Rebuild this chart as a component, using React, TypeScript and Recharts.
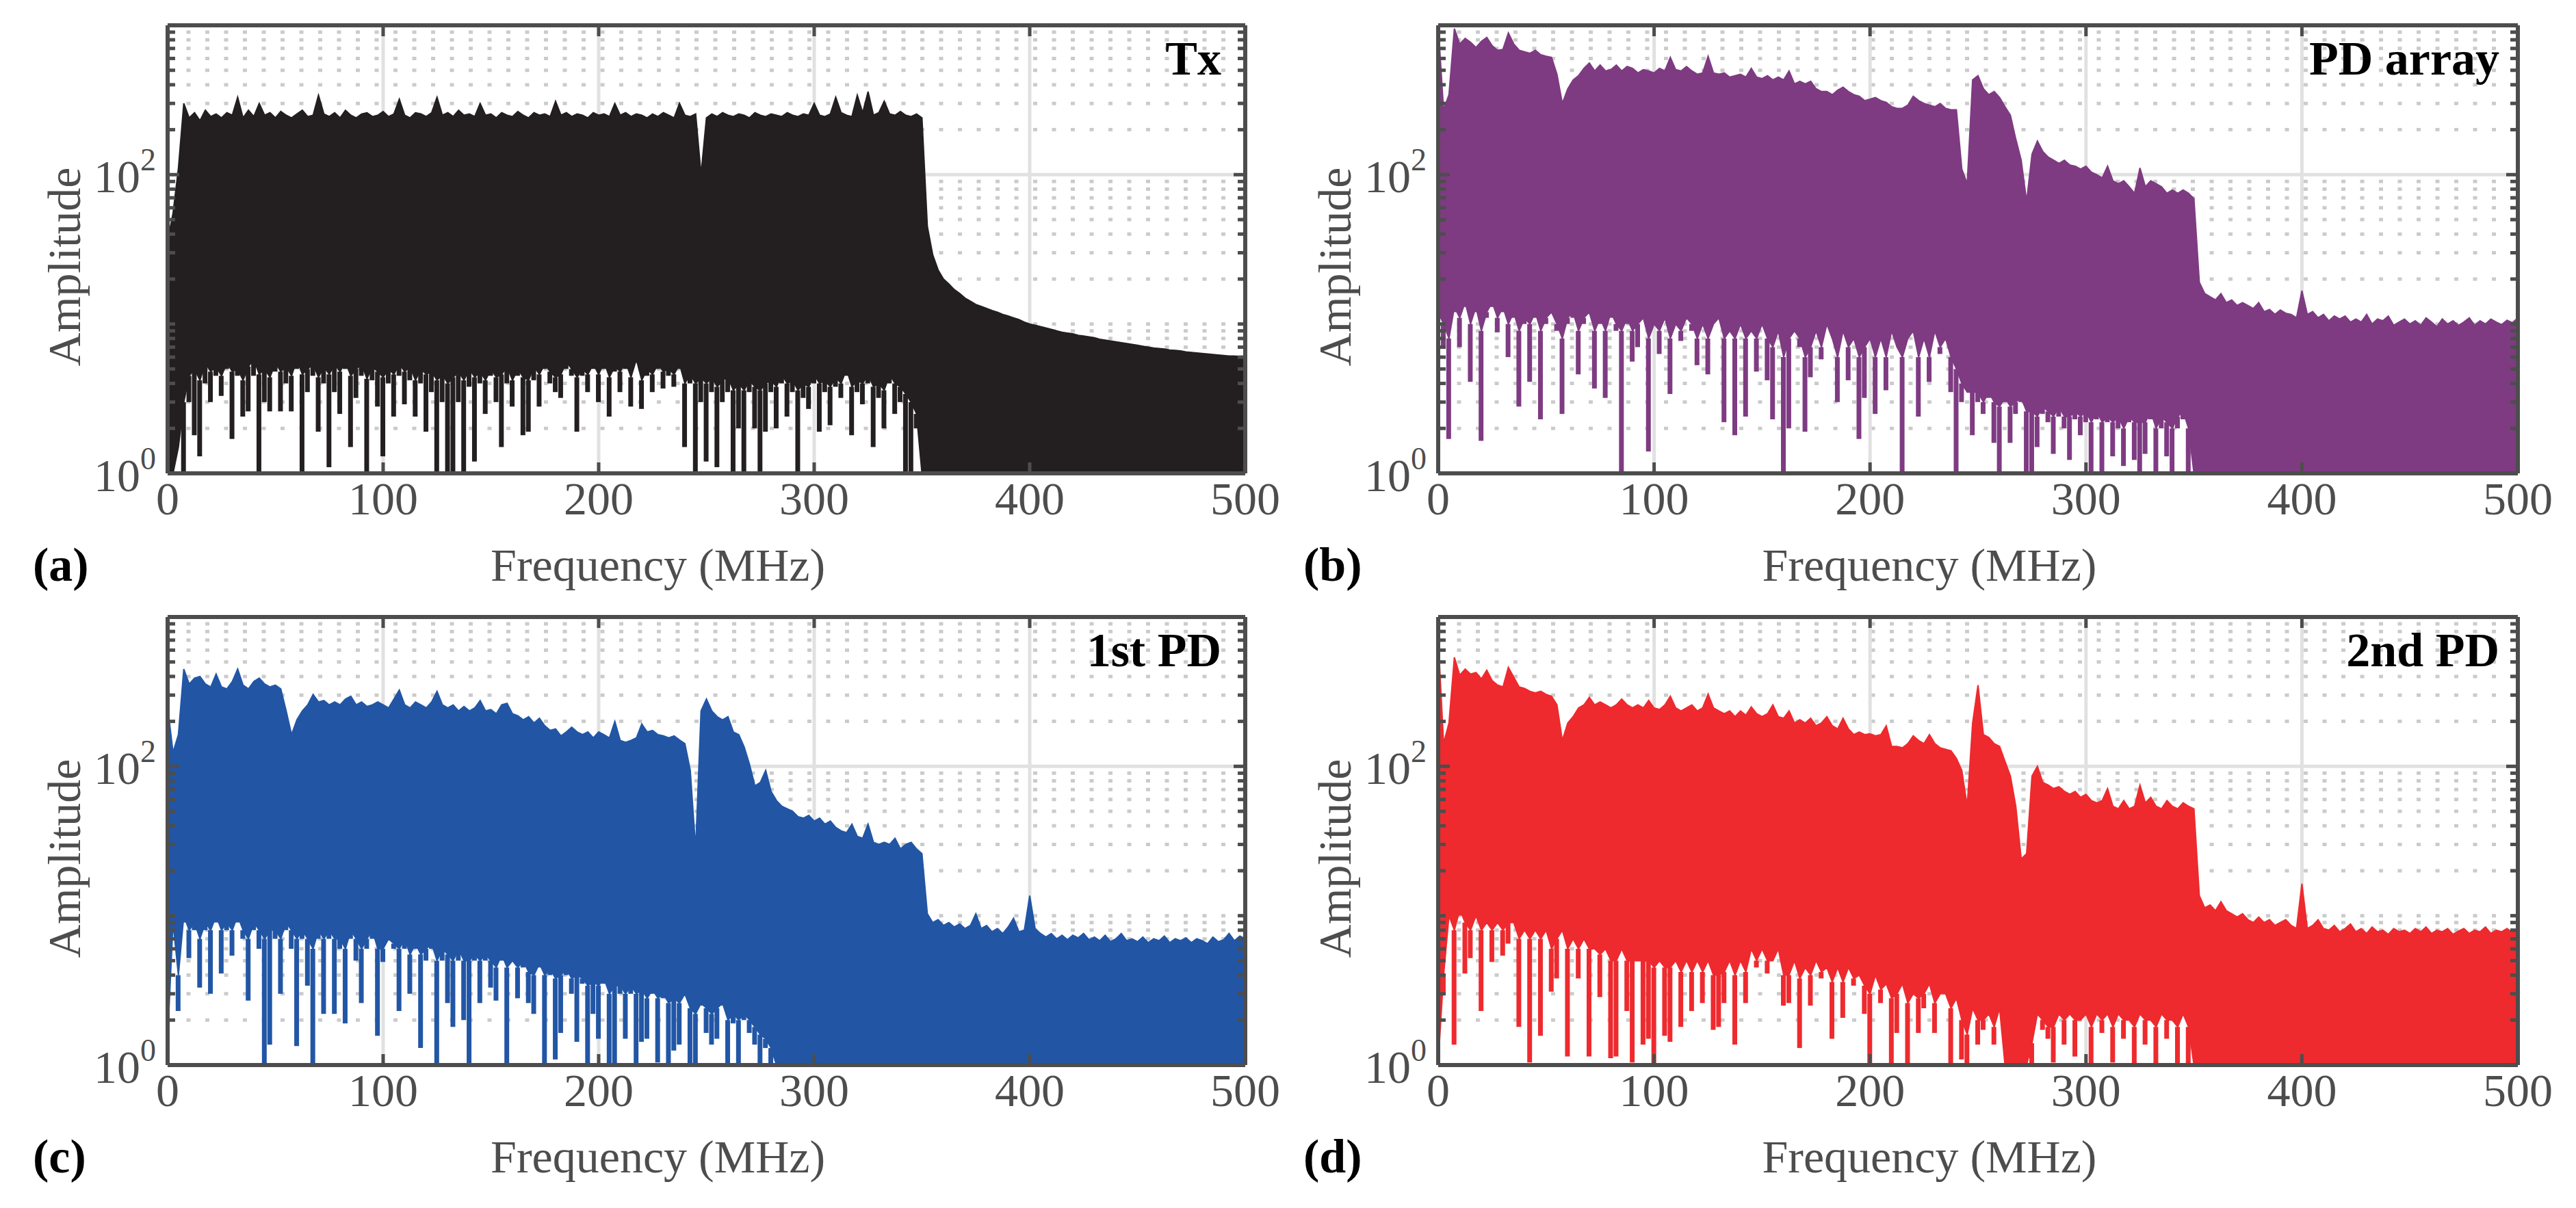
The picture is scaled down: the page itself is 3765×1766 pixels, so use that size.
import React from "react";
import { ComposedChart, Area, Bar, XAxis, YAxis, CartesianGrid, Label } from "recharts";

const FONT = '"Liberation Serif", "Times New Roman", Times, serif';
const AXIS = "#4d4d4d";

// frequency grid (MHz), 2.5 MHz step
const freqMHz = [
  0, 2.5, 5, 7.5, 10, 12.5, 15, 17.5, 20, 22.5,
  25, 27.5, 30, 32.5, 35, 37.5, 40, 42.5, 45, 47.5,
  50, 52.5, 55, 57.5, 60, 62.5, 65, 67.5, 70, 72.5,
  75, 77.5, 80, 82.5, 85, 87.5, 90, 92.5, 95, 97.5,
  100, 102.5, 105, 107.5, 110, 112.5, 115, 117.5, 120, 122.5,
  125, 127.5, 130, 132.5, 135, 137.5, 140, 142.5, 145, 147.5,
  150, 152.5, 155, 157.5, 160, 162.5, 165, 167.5, 170, 172.5,
  175, 177.5, 180, 182.5, 185, 187.5, 190, 192.5, 195, 197.5,
  200, 202.5, 205, 207.5, 210, 212.5, 215, 217.5, 220, 222.5,
  225, 227.5, 230, 232.5, 235, 237.5, 240, 242.5, 245, 247.5,
  250, 252.5, 255, 257.5, 260, 262.5, 265, 267.5, 270, 272.5,
  275, 277.5, 280, 282.5, 285, 287.5, 290, 292.5, 295, 297.5,
  300, 302.5, 305, 307.5, 310, 312.5, 315, 317.5, 320, 322.5,
  325, 327.5, 330, 332.5, 335, 337.5, 340, 342.5, 345, 347.5,
  350, 352.5, 355, 357.5, 360, 362.5, 365, 367.5, 370, 372.5,
  375, 377.5, 380, 382.5, 385, 387.5, 390, 392.5, 395, 397.5,
  400, 402.5, 405, 407.5, 410, 412.5, 415, 417.5, 420, 422.5,
  425, 427.5, 430, 432.5, 435, 437.5, 440, 442.5, 445, 447.5,
  450, 452.5, 455, 457.5, 460, 462.5, 465, 467.5, 470, 472.5,
  475, 477.5, 480, 482.5, 485, 487.5, 490, 492.5, 495, 497.5,
  500,
];

// (a) Tx: peak envelope, solid floor, and tips of the downward spikes
const txPeak = [
  36, 55, 110, 300, 240, 260, 230, 270, 245, 255,
  240, 260, 250, 330, 240, 270, 245, 300, 250, 260,
  240, 265, 250, 240, 255, 270, 245, 250, 340, 255,
  245, 260, 240, 270, 250, 240, 255, 260, 245, 250,
  265, 245, 255, 320, 250, 240, 260, 255, 245, 260,
  330, 250, 260, 245, 270, 250, 255, 245, 300, 250,
  255, 240, 260, 250, 245, 265, 250, 240, 260, 250,
  255, 245, 310, 250, 260, 245, 255, 250, 240, 260,
  250, 255, 245, 300, 250, 260, 245, 255, 250, 240,
  255, 245, 260, 250, 240, 300, 250, 245, 255, 100,
  240, 255, 245, 260, 250, 245, 255, 250, 240, 260,
  250, 245, 255, 250, 245, 260, 250, 245, 255, 250,
  300, 250, 245, 255, 330, 260, 250, 245, 340, 260,
  360, 250, 260, 310, 255, 250, 265, 250, 245, 255,
  240, 45, 29, 23, 20, 18.5, 17, 16, 14.9, 14.2,
  13.5, 13.1, 12.7, 12.3, 12, 11.6, 11.3, 11, 10.7, 10.3,
  10, 9.8, 9.6, 9.4, 9.2, 9, 8.8, 8.7, 8.6, 8.4,
  8.3, 8.2, 8.1, 7.9, 7.8, 7.7, 7.6, 7.5, 7.4, 7.3,
  7.2, 7.1, 7, 6.9, 6.85, 6.8, 6.7, 6.65, 6.6, 6.5,
  6.45, 6.4, 6.35, 6.3, 6.25, 6.2, 6.15, 6.1, 6.1, 6.05,
  6,
];
const txFloor = [
  1, 1, 1.5, 3, 4.5, 5, 4.2, 5.5, 4.8, 5.2,
  4.5, 5.5, 4.8, 5, 4.2, 5.2, 5.8, 4.6, 5, 4.4,
  5.5, 4.8, 5.2, 4.5, 5.8, 4.6, 5, 5.4, 4.4, 5.2,
  4.6, 5.4, 4.8, 5.6, 4.5, 5, 5.4, 4.3, 5.2, 4.8,
  4.4, 5, 4.6, 5.4, 4.8, 5.2, 4.2, 5, 4.6, 4.8,
  4.2, 4.6, 4, 4.4, 4.8, 4.2, 5, 4.4, 4.8, 4.2,
  5, 4.4, 4.6, 5.2, 4.2, 5, 4.4, 4.2, 5.2, 4.6,
  5.4, 4.8, 4.4, 4.6, 5.6, 5, 4.4, 5, 4.6, 5.4,
  4.6, 5.6, 4.4, 5.2, 4.8, 5.6, 4.4, 5.8, 4.2, 5,
  4.6, 5.4, 4.8, 5, 4.6, 5.4, 4, 4.6, 4, 4.4,
  4, 4.4, 3.8, 4.2, 4.4, 3.6, 4, 3.6, 4.2, 3.8,
  3.6, 4, 4.2, 3.8, 4.6, 4, 4.2, 3.6, 4, 3.8,
  4.6, 4, 4.2, 3.8, 4.4, 4, 5, 3.8, 4.2, 4,
  4.6, 3.8, 4, 3.6, 4.6, 4, 3.8, 3.4, 3, 2.5,
  1, 1, 1, 1, 1, 1, 1, 1, 1, 1,
  1, 1, 1, 1, 1, 1, 1, 1, 1, 1,
  1, 1, 1, 1, 1, 1, 1, 1, 1, 1,
  1, 1, 1, 1, 1, 1, 1, 1, 1, 1,
  1, 1, 1, 1, 1, 1, 1, 1, 1, 1,
  1, 1, 1, 1, 1, 1, 1, 1, 1, 1,
  1,
];
const txTrough = [
  1, 1, 1.5, 1, 3, 1.8, 1.3, 4, 3, 4.5,
  3.3, 5, 1.7, 4.5, 2.4, 2.6, 4.5, 1, 3, 2.6,
  4.8, 2.6, 4, 2.6, 5, 1, 3.5, 4.5, 1.9, 4,
  1.1, 3.5, 2.5, 5, 1.5, 3.2, 4.5, 1, 4.2, 2.8,
  1.3, 4, 2.4, 4.5, 2.9, 4.2, 2.4, 4, 1.9, 3.5,
  1, 3, 1, 1, 3, 1, 3.8, 1.2, 4, 2.5,
  4.5, 3, 1.5, 4, 2.8, 4.5, 1.8, 1.9, 4.2, 2.8,
  5, 4, 3.5, 3.2, 5, 4.5, 1.9, 4.5, 3.5, 5,
  3, 5, 2.4, 4.8, 3.5, 5, 2.8, 5.5, 2.7, 4.5,
  3.5, 5, 3.7, 4.5, 3.8, 5, 1.5, 4, 1, 3,
  1.2, 3.5, 1.1, 3, 3.5, 1, 2, 1, 3.5, 2,
  1, 1.9, 3.5, 2, 4, 2.4, 3.5, 1, 3.2, 2.7,
  4, 1.9, 3.5, 2.1, 3.8, 3.2, 4.5, 1.8, 3.5, 2.9,
  4, 1.5, 3.2, 2, 4, 2.5, 3, 1, 1, 2,
  1, 1, 1, 1, 1, 1, 1, 1, 1, 1,
  1, 1, 1, 1, 1, 1, 1, 1, 1, 1,
  1, 1, 1, 1, 1, 1, 1, 1, 1, 1,
  1, 1, 1, 1, 1, 1, 1, 1, 1, 1,
  1, 1, 1, 1, 1, 1, 1, 1, 1, 1,
  1, 1, 1, 1, 1, 1, 1, 1, 1, 1,
  1,
];

// (b) PD array
const pdaPeak = [
  1000, 272, 343, 950, 750, 818, 770, 710, 780, 830,
  730, 681, 690, 890, 750, 681, 665, 650, 681, 635,
  620, 610, 470, 300, 375, 431, 460, 515, 560, 495,
  542, 495, 505, 542, 495, 530, 515, 480, 505, 495,
  480, 515, 495, 610, 505, 495, 530, 495, 470, 480,
  620, 480, 470, 480, 450, 460, 470, 450, 515, 450,
  440, 460, 431, 450, 431, 495, 405, 422, 405, 422,
  376, 360, 360, 343, 368, 385, 360, 343, 335, 313,
  320, 328, 313, 305, 285, 278, 278, 292, 335, 313,
  300, 292, 285, 300, 278, 272, 272, 109, 87, 431,
  460, 376, 343, 360, 328, 285, 250, 173, 125, 66,
  137, 168, 143, 131, 125, 119, 125, 116, 114, 109,
  114, 104, 100, 95, 114, 91, 87, 91, 83, 75,
  111, 83, 91, 87, 83, 75, 79, 75, 79, 75,
  69, 19, 16, 15.2, 14.5, 16, 13.9, 14.5, 13.3, 13.9,
  13.3, 12.7, 13.9, 12.1, 12.5, 11.6, 12.4, 11.8, 11.6, 11,
  16.7, 11.6, 12.1, 11, 11.6, 10.5, 11.3, 10.8, 11.3, 10.3,
  10.8, 10.3, 11.6, 10, 10.8, 10.5, 11.3, 9.8, 10.3, 10.8,
  10, 10.5, 9.8, 11, 10.3, 9.6, 10.8, 10, 10.5, 9.8,
  10.3, 11, 9.8, 10.5, 10, 10.8, 10.3, 9.9, 10.6, 10.2,
  11,
];
const pdaFloor = [
  12, 10, 8, 13, 11, 14, 10, 13, 9, 12,
  14, 11, 13, 10, 12, 9, 11, 10, 12, 9,
  11, 12, 10, 8, 11, 12, 9, 11, 12, 9,
  11, 9, 12, 10, 9, 11, 9, 10, 11, 8,
  10, 9, 11, 8, 10, 9, 11, 10, 8, 10,
  8, 10, 11, 8, 9, 8, 10, 8, 9, 8,
  10, 8, 7, 9, 6, 8, 9, 8, 6, 7,
  9, 7, 10, 8, 6, 9, 7, 8, 6, 7,
  8, 6, 8, 6, 9, 7, 6, 8, 9, 6,
  8, 6, 9, 7, 8, 6, 5, 4, 3.5, 3.5,
  3.5, 3, 3.5, 3, 2.8, 3.2, 2.8, 3, 3.2, 2.6,
  2.6, 2.4, 2.8, 2.6, 2.4, 2.8, 2.4, 2.4, 2.6, 2.4,
  2.6, 2.2, 2.6, 2.2, 2.4, 2.2, 2.4, 2, 2.4, 2.2,
  2.2, 2.2, 2.6, 2, 2.4, 2.2, 2, 2.4, 2.6, 2,
  1, 1, 1, 1, 1, 1, 1, 1, 1, 1,
  1, 1, 1, 1, 1, 1, 1, 1, 1, 1,
  1, 1, 1, 1, 1, 1, 1, 1, 1, 1,
  1, 1, 1, 1, 1, 1, 1, 1, 1, 1,
  1, 1, 1, 1, 1, 1, 1, 1, 1, 1,
  1, 1, 1, 1, 1, 1, 1, 1, 1, 1,
  1,
];
const pdaTrough = [
  12, 7, 1.7, 12, 7, 13, 4.1, 12, 1.65, 11,
  13, 8.8, 12, 6, 11, 2.8, 10, 4.1, 11, 2.3,
  10, 12, 9, 2.5, 10, 11, 4.6, 10, 12, 3.7,
  10, 3.2, 11, 9, 1, 10, 5.6, 7, 11, 1.4,
  10, 6.3, 11, 3.4, 10, 7.7, 11, 9, 5.3, 10,
  4.6, 10, 11, 2.2, 9, 1.8, 10, 2.4, 9, 4.8,
  10, 4.2, 2.3, 9, 1, 2, 9, 7, 1.9, 4.4,
  9, 5.8, 10, 8, 3, 9, 4.2, 8, 1.7, 3.2,
  9, 2.5, 8, 3.6, 9, 7, 1, 8, 9, 2.4,
  8, 4.1, 9, 6.3, 8, 3.5, 1, 3, 3.5, 1.8,
  3, 2.5, 3.2, 1.6, 1, 3, 1.6, 2.5, 3, 1,
  1, 1.5, 2.5, 2.2, 1.35, 2.4, 2, 1.23, 2.3, 1.8,
  2.2, 1, 2.3, 1, 2.2, 1.3, 2, 1.12, 2.2, 1.23,
  1, 1.35, 2.3, 1, 2, 1.3, 1, 2, 2.3, 1,
  1, 1, 1, 1, 1, 1, 1, 1, 1, 1,
  1, 1, 1, 1, 1, 1, 1, 1, 1, 1,
  1, 1, 1, 1, 1, 1, 1, 1, 1, 1,
  1, 1, 1, 1, 1, 1, 1, 1, 1, 1,
  1, 1, 1, 1, 1, 1, 1, 1, 1, 1,
  1, 1, 1, 1, 1, 1, 1, 1, 1, 1,
  1,
];

// (c) 1st PD
const pd1Peak = [
  250, 124, 163, 448, 356, 390, 400, 356, 340, 415,
  340, 330, 370, 448, 350, 330, 370, 390, 356, 340,
  350, 330, 235, 163, 205, 235, 258, 303, 270, 276,
  258, 270, 258, 282, 295, 258, 270, 252, 258, 270,
  258, 246, 282, 324, 258, 246, 270, 258, 246, 270,
  318, 258, 246, 258, 235, 252, 235, 246, 276, 235,
  240, 225, 258, 264, 225, 218, 205, 215, 195, 210,
  187, 174, 178, 160, 170, 183, 170, 163, 170, 155,
  170, 163, 155, 200, 149, 145, 149, 155, 192, 170,
  174, 163, 160, 155, 160, 150, 142, 94, 28, 235,
  282, 235, 215, 205, 215, 170, 163, 135, 103, 74,
  78, 94, 68, 59, 54, 52, 50, 46, 45, 47,
  43, 45, 41, 43, 39, 37, 36, 41, 34, 33,
  41, 31, 30, 31, 30, 33, 28, 30, 31, 28,
  26, 10.3, 9, 9.4, 8.6, 9, 8.4, 8.8, 8.2, 8.6,
  10.3, 8.2, 8.6, 7.8, 8.2, 7.6, 8.4, 9.6, 7.8, 8,
  13.6, 8.2, 7.6, 7.2, 7.6, 7, 7.4, 6.9, 7.4, 7.1,
  7.6, 6.9, 7.2, 6.8, 7.4, 6.7, 7, 7.6, 6.8, 7,
  6.7, 7.2, 6.6, 7, 6.8, 7.3, 6.6, 7, 6.8, 7.1,
  6.6, 7, 6.8, 6.5, 7.2, 6.7, 6.9, 7.6, 6.8, 7.3,
  7,
];
const pd1Floor = [
  1.5, 9, 4, 10, 8, 9, 7, 9, 8, 10,
  8, 9, 8, 10, 8, 7, 9, 8, 7, 8,
  8, 7, 9, 8, 7, 8, 7, 6, 8, 7,
  8, 7, 7, 6, 8, 7, 6, 7, 8, 6,
  6, 7, 6.5, 6, 7, 5.5, 6.5, 5.5, 6, 6.5,
  5, 6, 5.5, 5, 6, 5, 5, 5.5, 5, 5.5,
  5, 4.5, 5.5, 4.5, 5, 4.5, 5, 4.2, 4, 4.8,
  4, 4.4, 3.8, 4, 4.4, 3.8, 4, 3.8, 3.4, 3.6,
  3.4, 3.8, 3, 3.4, 3.4, 3, 3.4, 3, 3.2, 2.8,
  3.2, 2.8, 3, 2.6, 2.8, 2.6, 3, 2.4, 2.2, 2.6,
  2.4, 2.2, 2.4, 2.6, 2, 2.2, 2, 2.2, 2, 1.8,
  1.6, 1.5, 1.3, 1, 1, 1, 1, 1, 1, 1,
  1, 1, 1, 1, 1, 1, 1, 1, 1, 1,
  1, 1, 1, 1, 1, 1, 1, 1, 1, 1,
  1, 1, 1, 1, 1, 1, 1, 1, 1, 1,
  1, 1, 1, 1, 1, 1, 1, 1, 1, 1,
  1, 1, 1, 1, 1, 1, 1, 1, 1, 1,
  1, 1, 1, 1, 1, 1, 1, 1, 1, 1,
  1, 1, 1, 1, 1, 1, 1, 1, 1, 1,
  1, 1, 1, 1, 1, 1, 1, 1, 1, 1,
  1,
];
const pd1Trough = [
  1.5, 8, 2.3, 9, 5.2, 8, 3.3, 8, 3, 9,
  4.1, 8, 5.4, 9, 7, 2.7, 8, 6, 1, 1.37,
  7, 3, 8, 6, 1.34, 7, 3.4, 1, 7, 2.2,
  7, 2.2, 6, 1.9, 7, 5, 2.6, 6, 7, 1.57,
  4.9, 7, 6, 2.3, 6, 3, 6, 1.3, 5, 6,
  1, 5, 2.6, 1.8, 5, 2, 1, 5, 2.6, 5,
  3.3, 2.7, 5, 1, 5, 2.8, 4.5, 2.6, 2.2, 4.5,
  1, 4, 1.09, 1.64, 4, 3, 1.43, 3.5, 1, 2.2,
  1.5, 3.5, 1, 1, 3, 1.5, 3, 1, 1.43, 1.5,
  3, 1.04, 2.8, 1, 1.25, 1.37, 3, 1, 1, 2.5,
  1.64, 1.37, 1.5, 2.5, 1, 1.9, 1, 2, 1.64, 1.37,
  1, 1.3, 1, 1, 1, 1, 1, 1, 1, 1,
  1, 1, 1, 1, 1, 1, 1, 1, 1, 1,
  1, 1, 1, 1, 1, 1, 1, 1, 1, 1,
  1, 1, 1, 1, 1, 1, 1, 1, 1, 1,
  1, 1, 1, 1, 1, 1, 1, 1, 1, 1,
  1, 1, 1, 1, 1, 1, 1, 1, 1, 1,
  1, 1, 1, 1, 1, 1, 1, 1, 1, 1,
  1, 1, 1, 1, 1, 1, 1, 1, 1, 1,
  1, 1, 1, 1, 1, 1, 1, 1, 1, 1,
  1,
];

// (d) 2nd PD
const pd2Peak = [
  725, 142, 195, 537, 408, 448, 415, 425, 385, 440,
  375, 350, 340, 460, 395, 340, 332, 318, 310, 318,
  303, 295, 258, 149, 195, 215, 246, 258, 290, 258,
  270, 258, 246, 258, 282, 258, 246, 258, 246, 276,
  246, 240, 258, 295, 246, 235, 246, 258, 235, 246,
  305, 246, 235, 225, 235, 215, 235, 220, 250, 225,
  215, 225, 258, 215, 210, 235, 195, 205, 195, 210,
  187, 195, 215, 187, 178, 210, 178, 163, 170, 163,
  165, 160, 163, 187, 136, 136, 133, 142, 160, 149,
  142, 163, 142, 133, 130, 127, 113, 94, 54, 195,
  350, 163, 156, 142, 136, 108, 86, 54, 24, 26,
  86, 100, 78, 75, 71, 73, 68, 65, 68, 62,
  65, 59, 57, 59, 71, 54, 52, 59, 52, 54,
  75, 57, 62, 54, 52, 59, 54, 52, 57, 54,
  52, 13.6, 11.3, 11.8, 10.8, 12.4, 10.8, 10.3, 9.8, 10.3,
  9.4, 9, 9.8, 9, 9.4, 8.6, 9, 9.4, 8.6, 8.2,
  16.4, 8.2, 8.6, 9.4, 8.2, 8, 8.6, 7.8, 8.2, 8.8,
  7.8, 8.2, 7.6, 8.4, 7.8, 8, 7.5, 8.2, 7.8, 8,
  7.6, 8.2, 7.8, 8.4, 7.6, 8, 7.8, 8.2, 7.5, 7.9,
  8.2, 7.6, 8, 7.8, 8.4, 7.6, 8, 7.8, 8.2, 7.7,
  8,
];
const pd2Floor = [
  1.04, 4, 10, 8, 11, 9, 8, 10, 8, 9,
  8, 9, 8, 9, 9, 7, 8, 7, 8, 7,
  8, 6, 7, 8, 6, 7, 6, 7, 6, 6,
  5.5, 6, 5, 5, 6, 5, 5, 5, 5, 5,
  4.5, 5, 4.5, 4.5, 5, 4.2, 5, 4.2, 5, 4.2,
  5, 4, 4, 4.2, 5, 4, 5, 4.2, 6, 5,
  6, 5, 5, 6, 4, 4, 5, 3.8, 4.5, 4,
  5, 4.2, 4.5, 3.6, 4.5, 3.6, 4.5, 3.8, 4, 3.4,
  3, 4, 3.2, 3.5, 2.8, 3, 3.5, 2.6, 3, 2.8,
  3, 3.5, 2.6, 3, 3, 2.4, 2.8, 2, 1.6, 2.4,
  2, 2, 2.2, 1.8, 2.4, 1, 1, 1, 1, 1,
  1.4, 2.2, 2, 1.8, 1.8, 2.2, 2, 2.2, 2, 2,
  2.2, 1.8, 2.2, 2, 2.2, 1.8, 2.2, 2, 2, 1.8,
  2.2, 2, 2, 1.8, 2.2, 2, 2, 1.8, 2.2, 1.8,
  1, 1, 1, 1, 1, 1, 1, 1, 1, 1,
  1, 1, 1, 1, 1, 1, 1, 1, 1, 1,
  1, 1, 1, 1, 1, 1, 1, 1, 1, 1,
  1, 1, 1, 1, 1, 1, 1, 1, 1, 1,
  1, 1, 1, 1, 1, 1, 1, 1, 1, 1,
  1, 1, 1, 1, 1, 1, 1, 1, 1, 1,
  1,
];
const pd2Trough = [
  1.04, 3, 10, 1.37, 10, 4.1, 5.2, 10, 2.3, 9,
  4.9, 9, 5.4, 6.5, 9, 1.8, 8, 1.04, 8, 1.57,
  8, 3.1, 3.8, 8, 1.14, 7, 3.8, 7, 1.14, 6,
  2.85, 6, 1.11, 1.14, 6, 2.3, 1.04, 5, 1.37, 1.5,
  1, 5, 1.57, 1.43, 5, 1.8, 5, 2.3, 5, 2.6,
  5, 1.72, 1.8, 2.6, 5, 1.37, 5, 2.6, 6, 4.5,
  6, 4.1, 5, 6, 2.5, 2.6, 5, 1.3, 4.5, 2.5,
  5, 3.8, 4.5, 1.5, 4.5, 2.07, 4.5, 3.4, 4, 2.2,
  1, 4, 2.6, 3.5, 1, 1.64, 3.5, 1, 3, 1.64,
  2.4, 3.5, 1.64, 3, 3, 1, 2.8, 1.09, 1, 2.4,
  1.37, 1.72, 2.2, 1.37, 2.4, 1, 1, 1, 1, 1,
  1, 2.2, 1.72, 1.5, 1.04, 2.2, 1.37, 2.2, 1.14, 2,
  2.2, 1, 2.2, 1.64, 2.2, 1.04, 2.2, 1.5, 2, 1,
  2.2, 1.37, 2, 1, 2.2, 1.5, 2, 1, 2.2, 1,
  1, 1, 1, 1, 1, 1, 1, 1, 1, 1,
  1, 1, 1, 1, 1, 1, 1, 1, 1, 1,
  1, 1, 1, 1, 1, 1, 1, 1, 1, 1,
  1, 1, 1, 1, 1, 1, 1, 1, 1, 1,
  1, 1, 1, 1, 1, 1, 1, 1, 1, 1,
  1, 1, 1, 1, 1, 1, 1, 1, 1, 1,
  1,
];

const xTicks = [0, 100, 200, 300, 400, 500];
const yTicks = [
  1, 2, 3, 4, 5, 6, 7, 8, 9,
  10, 20, 30, 40, 50, 60, 70, 80, 90,
  100, 200, 300, 400, 500, 600, 700, 800, 900, 1000,
];
const yMinorGrid = [
  2, 3, 4, 5, 6, 7, 8, 9,
  10, 20, 30, 40, 50, 60, 70, 80, 90,
  200, 300, 400, 500, 600, 700, 800, 900,
];
const yMajorGrid = [100];
const xMajorGrid = [100, 200, 300, 400];
const yLabelled: Record<number, string> = { 1: "0", 100: "2" };

const PLOT_H = 655;
const LEFT_W = 245;
const TOP_M = 37;

function isMajorY(v: number) {
  return v === 1 || v === 100 || v === 1000;
}

function LeftTick(props: any) {
  const { x, y, payload } = props;
  const v = payload.value;
  const len = isMajorY(v) ? 17 : 11;
  const exp = yLabelled[v];
  return (
    <g>
      <line x1={x} y1={y} x2={x + len} y2={y} stroke={AXIS} strokeWidth={5} />
      {exp && (
        <text x={x - 17} y={y + 26} textAnchor="end" fill={AXIS} fontSize={68} fontFamily={FONT}>
          10<tspan dy={-32} fontSize={46}>{exp}</tspan>
        </text>
      )}
    </g>
  );
}

function RightTick(props: any) {
  const { x, y, payload } = props;
  const len = isMajorY(payload.value) ? 17 : 11;
  return <line x1={x} y1={y} x2={x - len} y2={y} stroke={AXIS} strokeWidth={5} />;
}

function BottomTick(props: any) {
  const { x, y, payload } = props;
  return (
    <g>
      <line x1={x} y1={y} x2={x} y2={y - 16} stroke={AXIS} strokeWidth={5} />
      <text x={x} y={y + 60} textAnchor="middle" fill={AXIS} fontSize={68} fontFamily={FONT}>
        {payload.value}
      </text>
    </g>
  );
}

function TopTick(props: any) {
  const { x, y } = props;
  return <line x1={x} y1={y} x2={x} y2={y + 16} stroke={AXIS} strokeWidth={5} />;
}

interface PanelProps {
  letter: string;
  title: string;
  color: string;
  peak: number[];
  floor: number[];
  trough: number[];
  plotLeft: number;
  plotTop: number;
  plotW: number;
  titleInset: number;
}

function Panel({ letter, title, color, peak, floor, trough, plotLeft, plotTop, plotW, titleInset }: PanelProps) {
  const data = freqMHz.map((f, i) => ({
    f,
    band: [floor[i], peak[i]],
    dip: trough[i] < floor[i] ? [trough[i], floor[i]] : null,
  }));
  const width = LEFT_W + plotW + 60;
  const height = TOP_M + PLOT_H + 200;
  return (
    <div style={{ position: "absolute", left: plotLeft - LEFT_W, top: plotTop - TOP_M }}>
      <ComposedChart
        width={width}
        height={height}
        data={data}
        barGap={0}
        barCategoryGap={0}
        margin={{ top: TOP_M - 1, right: 59, bottom: 100, left: 0 }}
      >
        <CartesianGrid
          xAxisId="b"
          yAxisId="l"
          vertical={false}
          horizontalValues={yMinorGrid}
          stroke="#cbcbcb"
          strokeWidth={5}
          strokeDasharray="6 21.5"
        />
        <CartesianGrid
          xAxisId="b"
          yAxisId="l"
          horizontalValues={yMajorGrid}
          verticalValues={xMajorGrid}
          stroke="#e1e1e1"
          strokeWidth={5}
        />
        <XAxis
          xAxisId="b"
          dataKey="f"
          type="number"
          domain={[0, 500]}
          ticks={xTicks}
          interval={0}
          allowDataOverflow
          height={100}
          tickSize={0}
          tickMargin={0}
          tickLine={false}
          tick={BottomTick}
          axisLine={{ stroke: AXIS, strokeWidth: 6 }}
        >
          <Label
            content={(p: any) => {
              const vb = p.viewBox;
              return (
                <g fontFamily={FONT}>
                  <text x={vb.x + vb.width * 0.455} y={vb.y + 157} textAnchor="middle" fontSize={68} fill={AXIS}>
                    Frequency (MHz)
                  </text>
                  <text x={vb.x - 197} y={vb.y + 157} fontSize={70} fontWeight="bold" fill="#000">
                    ({letter})
                  </text>
                </g>
              );
            }}
          />
        </XAxis>
        <XAxis
          xAxisId="t"
          orientation="top"
          dataKey="f"
          type="number"
          domain={[0, 500]}
          ticks={xTicks}
          interval={0}
          allowDataOverflow
          height={1}
          tickSize={0}
          tickMargin={0}
          tickLine={false}
          tick={TopTick}
          axisLine={{ stroke: AXIS, strokeWidth: 6 }}
        />
        <YAxis
          yAxisId="l"
          scale="log"
          domain={[1, 1000]}
          ticks={yTicks}
          interval={0}
          allowDataOverflow
          width={LEFT_W}
          tickSize={0}
          tickMargin={0}
          tickLine={false}
          tick={LeftTick}
          axisLine={{ stroke: AXIS, strokeWidth: 6 }}
        >
          <Label
            content={(p: any) => {
              const vb = p.viewBox;
              const cx = vb.x + 117;
              const cy = vb.y + 353;
              return (
                <text
                  x={cx}
                  y={cy}
                  transform={`rotate(-90 ${cx} ${cy})`}
                  textAnchor="middle"
                  fontSize={68}
                  fontFamily={FONT}
                  fill={AXIS}
                >
                  Amplitude
                </text>
              );
            }}
          />
        </YAxis>
        <YAxis
          yAxisId="r"
          orientation="right"
          scale="log"
          domain={[1, 1000]}
          ticks={yTicks}
          interval={0}
          allowDataOverflow
          width={1}
          tickSize={0}
          tickMargin={0}
          tickLine={false}
          tick={RightTick}
          axisLine={{ stroke: AXIS, strokeWidth: 6 }}
        >
          <Label
            content={(p: any) => {
              const vb = p.viewBox;
              return (
                <text
                  x={vb.x - titleInset}
                  y={vb.y + 72}
                  textAnchor="end"
                  fontSize={70}
                  fontWeight="bold"
                  fontFamily={FONT}
                  fill="#000"
                >
                  {title}
                </text>
              );
            }}
          />
        </YAxis>
        <Area
          xAxisId="b"
          yAxisId="l"
          dataKey="band"
          type="linear"
          stroke={color}
          strokeWidth={2}
          fill={color}
          fillOpacity={1}
          dot={false}
          activeDot={false}
          isAnimationActive={false}
        />
        <Bar
          xAxisId="b"
          yAxisId="l"
          dataKey="dip"
          barSize={7}
          fill={color}
          isAnimationActive={false}
        />
      </ComposedChart>
    </div>
  );
}

export default function App() {
  return (
    <div style={{ position: "absolute", left: 0, top: 0, width: 3765, height: 1766, background: "#fff", overflow: "hidden" }}>
      <Panel letter="a" title="Tx" color="#231f20" peak={txPeak} floor={txFloor} trough={txTrough} plotLeft={245} plotTop={37} plotW={1575} titleInset={35} />
      <Panel letter="b" title="PD array" color="#7e3b82" peak={pdaPeak} floor={pdaFloor} trough={pdaTrough} plotLeft={2102} plotTop={37} plotW={1578} titleInset={27} />
      <Panel letter="c" title="1st PD" color="#2256a5" peak={pd1Peak} floor={pd1Floor} trough={pd1Trough} plotLeft={245} plotTop={902} plotW={1575} titleInset={35} />
      <Panel letter="d" title="2nd PD" color="#ee2a2e" peak={pd2Peak} floor={pd2Floor} trough={pd2Trough} plotLeft={2102} plotTop={902} plotW={1578} titleInset={27} />
    </div>
  );
}
